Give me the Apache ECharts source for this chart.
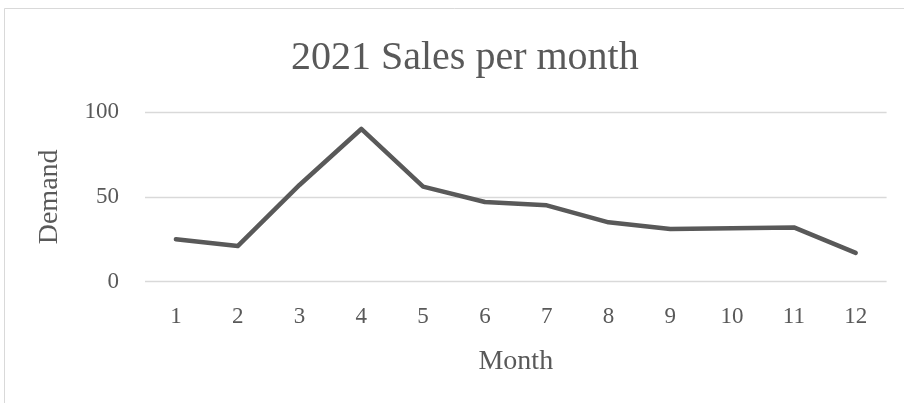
<!DOCTYPE html>
<html>
<head>
<meta charset="utf-8">
<script src="https://cdn.jsdelivr.net/npm/echarts@6/dist/echarts.min.js"></script>
<style>
  html, body { margin: 0; padding: 0; background: #ffffff; }
  #chart { width: 904px; height: 403px; }
</style>
</head>
<body>
<div id="chart"></div>
<script>
// Monthly demand for 2021
const months = ['1', '2', '3', '4', '5', '6', '7', '8', '9', '10', '11', '12'];
const demand = [25, 21, 57, 90, 56, 47, 45, 35, 31, 31.5, 32, 17];
const yTicks = { min: 0, max: 100, interval: 50 };

const FONT = '"Liberation Serif", "DejaVu Serif", serif';
const TEXT = '#595959';

const chart = echarts.init(document.getElementById('chart'), null, { renderer: 'canvas' });
chart.setOption({
  backgroundColor: '#ffffff',
  animation: false,
  graphic: [{
    type: 'rect',
    shape: { x: 4.5, y: 8.5, width: 1000, height: 1000 },
    style: { fill: 'none', stroke: '#d9d9d9', lineWidth: 1 },
    silent: true
  }],
  title: {
    text: '2021 Sales per month',
    left: 286,
    top: 33,
    textStyle: { fontFamily: FONT, fontSize: 40, fontWeight: 'normal', color: TEXT }
  },
  grid: { left: 145, right: 17.4, top: 112, bottom: 121.3 },
  xAxis: {
    type: 'category',
    data: months,
    boundaryGap: true,
    name: 'Month',
    nameLocation: 'middle',
    nameGap: 66,
    nameTextStyle: { fontFamily: FONT, fontSize: 28, color: TEXT },
    axisLine: { show: false },
    axisTick: { show: false },
    axisLabel: { fontFamily: FONT, fontSize: 23, color: TEXT, margin: 24 }
  },
  yAxis: {
    type: 'value',
    min: yTicks.min,
    max: yTicks.max,
    interval: yTicks.interval,
    name: 'Demand',
    nameLocation: 'middle',
    nameGap: 81,
    nameTextStyle: { fontFamily: FONT, fontSize: 28, color: TEXT },
    axisLine: { show: false },
    axisTick: { show: false },
    axisLabel: { fontFamily: FONT, fontSize: 23, color: TEXT, margin: 26 },
    splitLine: { lineStyle: { color: '#d9d9d9', width: 1.3 } }
  },
  series: [{
    type: 'line',
    data: demand,
    symbol: 'none',
    lineStyle: { color: '#595959', width: 4.5, cap: 'round', join: 'round' }
  }]
});
</script>
</body>
</html>
